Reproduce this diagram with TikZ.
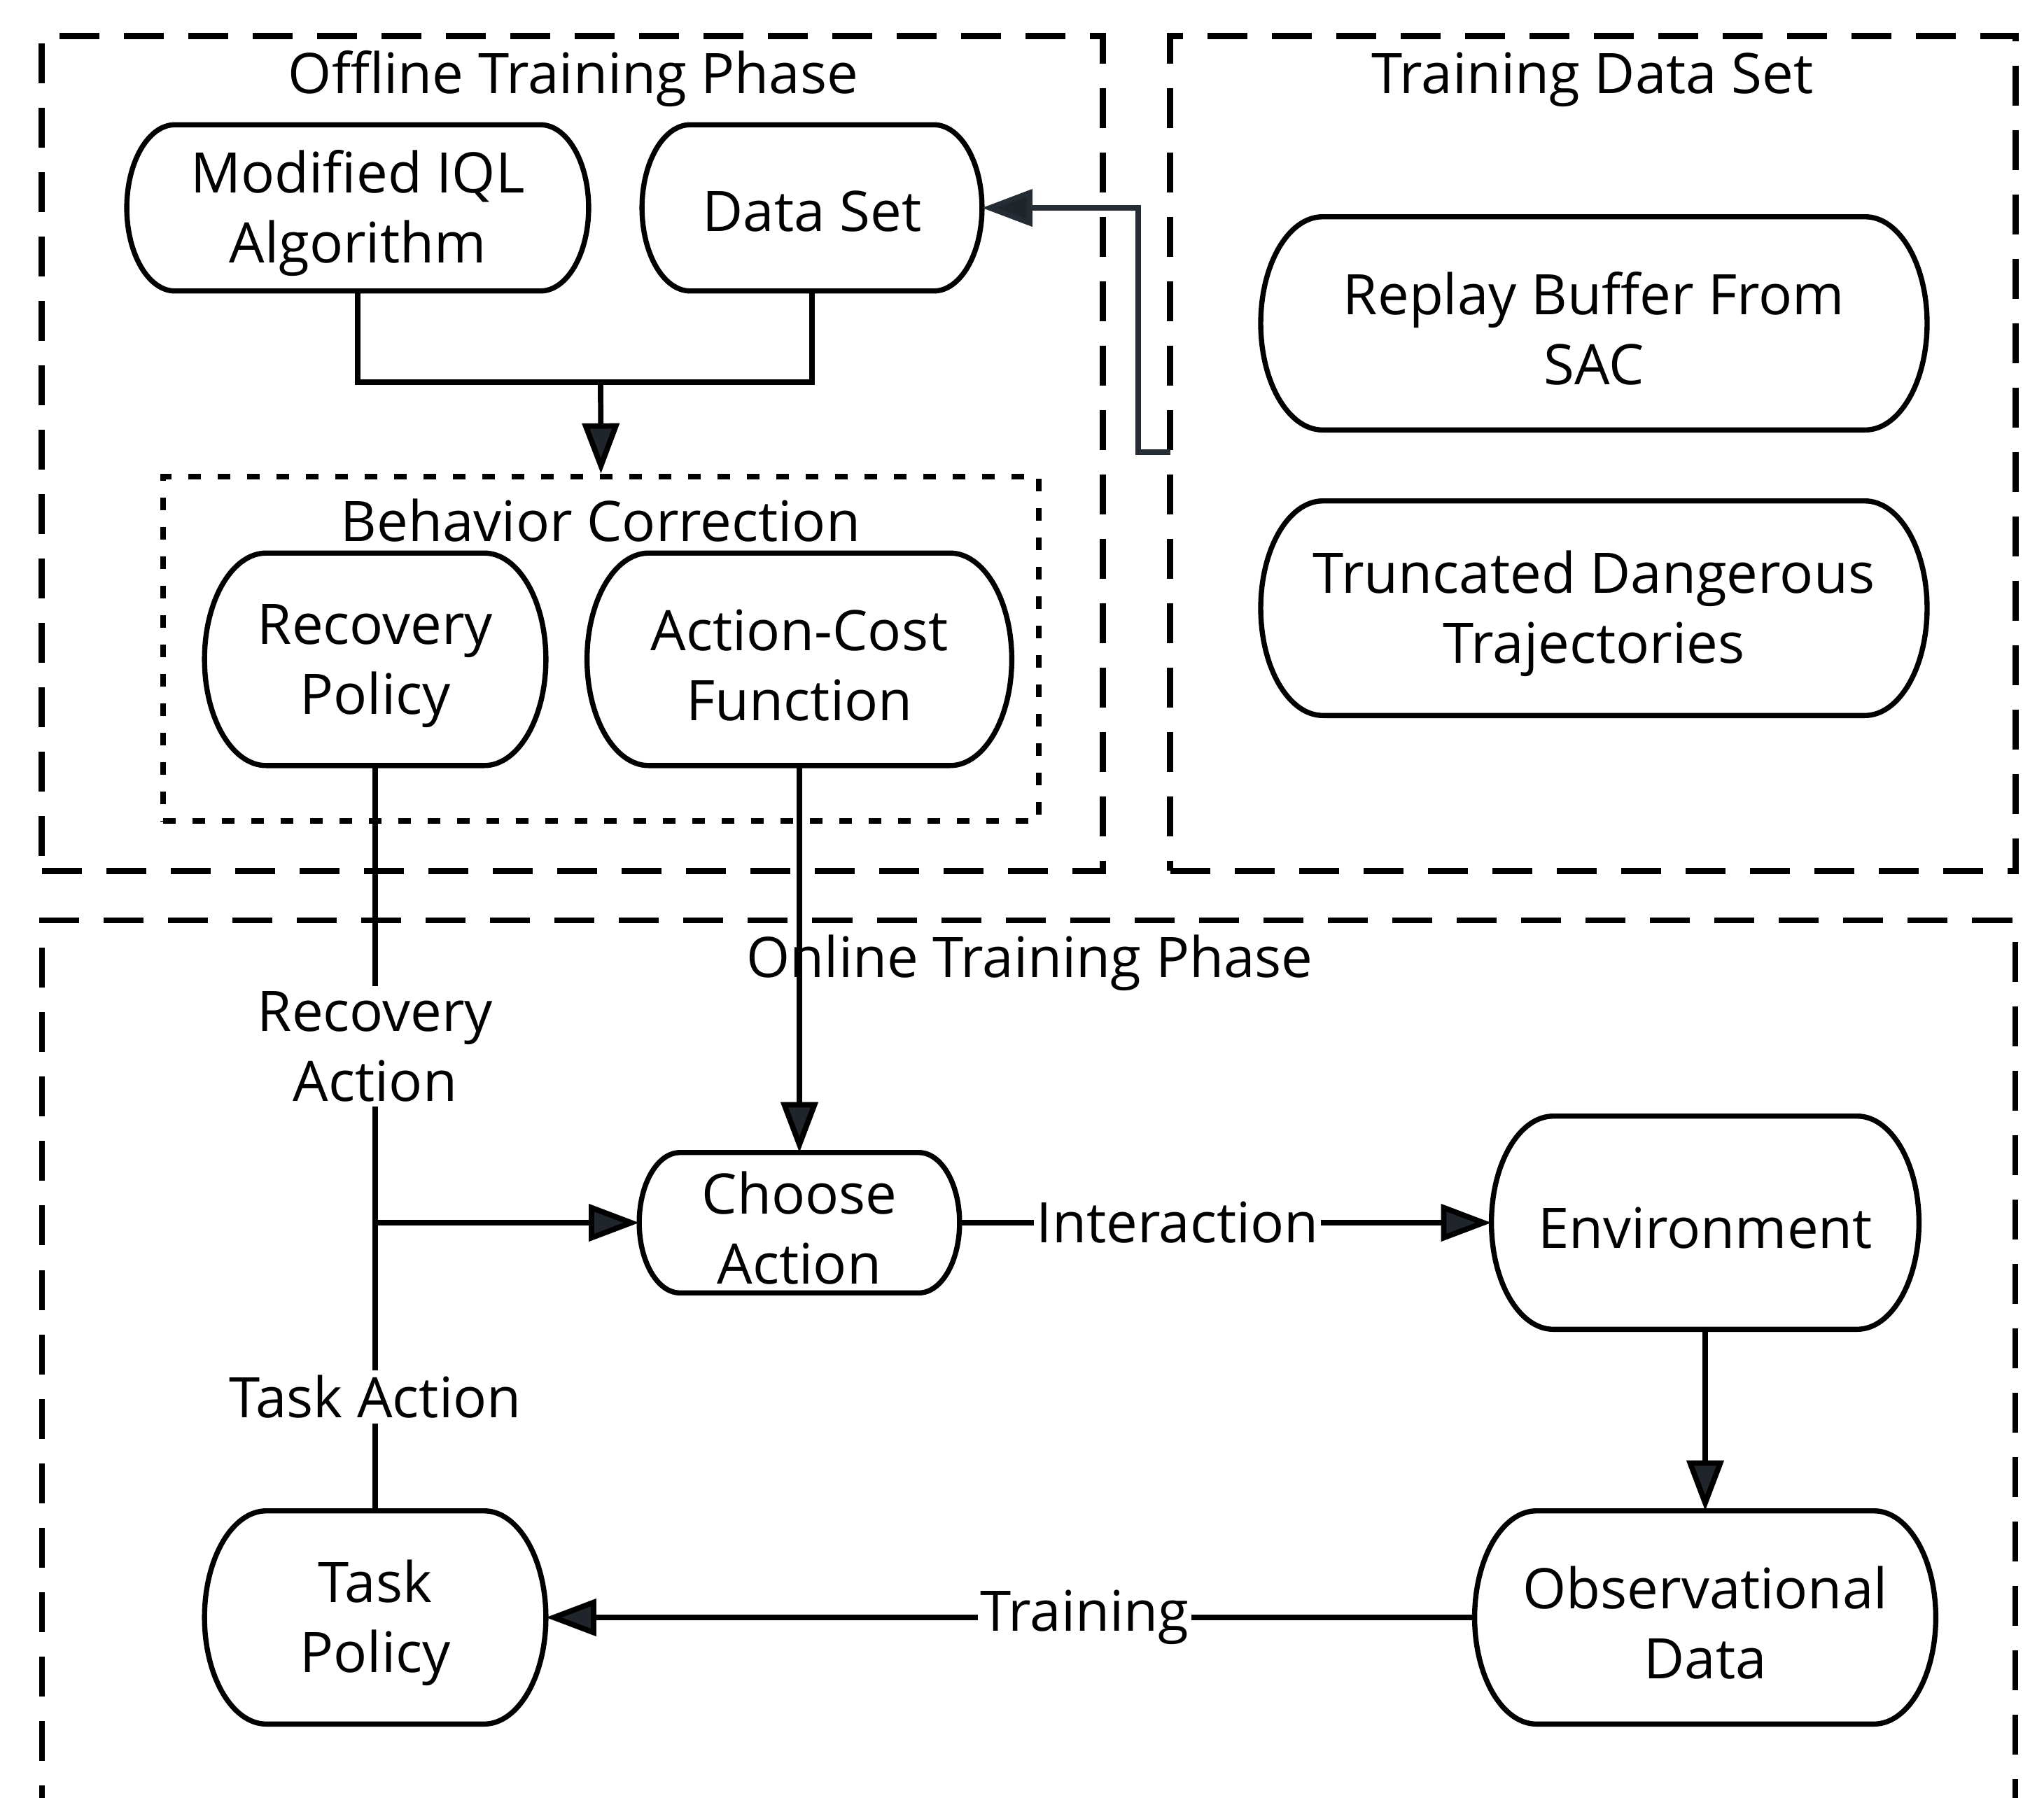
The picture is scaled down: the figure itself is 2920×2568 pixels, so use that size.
\documentclass[tikz,border=0pt]{standalone}
\usepackage{fontspec}
\setmainfont{Open Sans}
\usetikzlibrary{arrows.meta,calc}
\definecolor{tipfill}{HTML}{1F252B}
\definecolor{linkgrey}{HTML}{262C33}
\newcommand\liftline{\rule{0pt}{21.5pt}}
\begin{document}
\begin{tikzpicture}[x=0.01cm,y=-0.01cm,
  every node/.style={font=\fontsize{22.7pt}{28.4pt}\selectfont, text=black},
  lowered/.style={execute at begin node={\rule{0pt}{21pt}}},
  term/.style={rectangle, draw=none, align=center, inner sep=0pt},
  termline/.style={line width=2.1pt, draw=black, line join=round},
  phase/.style={draw=black, line width=2.4pt, dash pattern=on 0.57cm off 0.35cm, inner sep=0pt},
  bcstyle/.style={draw=black, line width=2.3pt, dash pattern=on 0.18cm off 0.24cm, inner sep=0pt},
  link/.style={line width=2.2pt, draw=black},
  arr/.style={link, -{Triangle[length=0.72cm,width=0.52cm,fill=tipfill]}},
  lbl/.style={fill=white, inner xsep=1pt, inner ysep=2pt, align=center},
  ttl/.style={lowered},
]
\clip (0,0) rectangle (2920,2568);
\fill[white] (0,0) rectangle (2920,2568);

% phase boxes
\node[phase, minimum width=15.15cm, minimum height=11.92cm] (offbox) at (817.5,648) {};
\node[phase, minimum width=12.07cm, minimum height=11.92cm] (tdsbox) at (2275.5,648) {};
\draw[phase] (60,2700) -- (60,1315) -- (2879,1315) -- (2879,2700);
\node[bcstyle, minimum width=12.51cm, minimum height=4.92cm] (bc) at (858.5,927) {};

% titles
\node[ttl] (offt) at (819,106) {Offline Training Phase};
\node[ttl] (tdst) at (2275,106) {Training Data Set};
\node[ttl] (ont) at (1471,1369) {Online Training Phase};
\node[ttl] (bct) at (858,737) {Behavior Correction};

% process nodes
\node[term, minimum width=6.58cm, minimum height=2.36cm] (iql) at (511,297) {\liftline Modified IQL\\Algorithm};
\node[term, minimum width=4.84cm, minimum height=2.36cm] (ds) at (1160,297) {\rule{0pt}{19.5pt}Data Set};
\node[term, minimum width=9.50cm, minimum height=3.03cm] (rb) at (2277,462) {\liftline Replay Buffer From\\SAC};
\node[term, minimum width=9.50cm, minimum height=3.05cm] (td) at (2277,869) {\liftline Truncated Dangerous\\Trajectories};
\node[term, minimum width=4.86cm, minimum height=3.02cm] (rp) at (536,942) {\liftline Recovery\\Policy};
\node[term, minimum width=6.05cm, minimum height=3.02cm] (ac) at (1142,942) {\liftline Action-Cost\\Function};
\node[term, minimum width=4.56cm, minimum height=1.99cm] (ca) at (1142,1747) {\liftline Choose\\Action};
\node[term, minimum width=6.09cm, minimum height=3.03cm] (env) at (2436,1747) {\rule{0pt}{21pt}Environment};
\node[term, minimum width=4.86cm, minimum height=3.03cm] (tp) at (536,2311) {\liftline Task\\Policy};
\node[term, minimum width=6.57cm, minimum height=3.03cm] (od) at (2436,2311) {\liftline Observational\\Data};

\foreach \nd in {iql,ds,rb,td,rp,ac,ca,env,tp,od}{
  \draw[termline] let \p1=(\nd.north east), \p2=(\nd.south west),
        \n1={0.29*abs(\y1-\y2)}, \n2={0.5*abs(\y1-\y2)} in
    (\x2+\n1,\y1) -- (\x1-\n1,\y1)
    arc[start angle=90, end angle=-90, x radius=\n1, y radius=\n2]
    -- (\x2+\n1,\y2)
    arc[start angle=270, end angle=90, x radius=\n1, y radius=\n2]
    -- cycle;
}

% offline connectors
\coordinate (m) at (858,546);
\draw[link] (iql.south) |- (m);
\draw[link] (ds.south) |- (m);
\draw[arr] (m) -- (bc.north);

\coordinate (tdsport) at (1672,646);
\draw[link, draw=linkgrey, -{Triangle[length=0.72cm,width=0.52cm,fill=tipfill]}]
  (tdsport) -- (1626,646) |- (ds.east);

% online connectors
\draw[link] (rp.south) -- (tp.north);
\node[lbl] (ra) at (536,1495) {Recovery\\Action};
\node[lbl] (ta) at (536,1996) {Task Action};
\coordinate (br) at (rp.south |- ca.west);
\draw[arr] (br) -- (ca.west);

\draw[arr] (ac.south) -- (ca.north);
\draw[arr] (ca.east) -- node[lbl, pos=0.41] (it) {Interaction} (env.west);
\draw[arr] (env.south) -- (od.north);
\draw[arr] (od.west) -- node[lbl, pos=0.42] (tr) {Training} (tp.east);
\end{tikzpicture}
\end{document}
